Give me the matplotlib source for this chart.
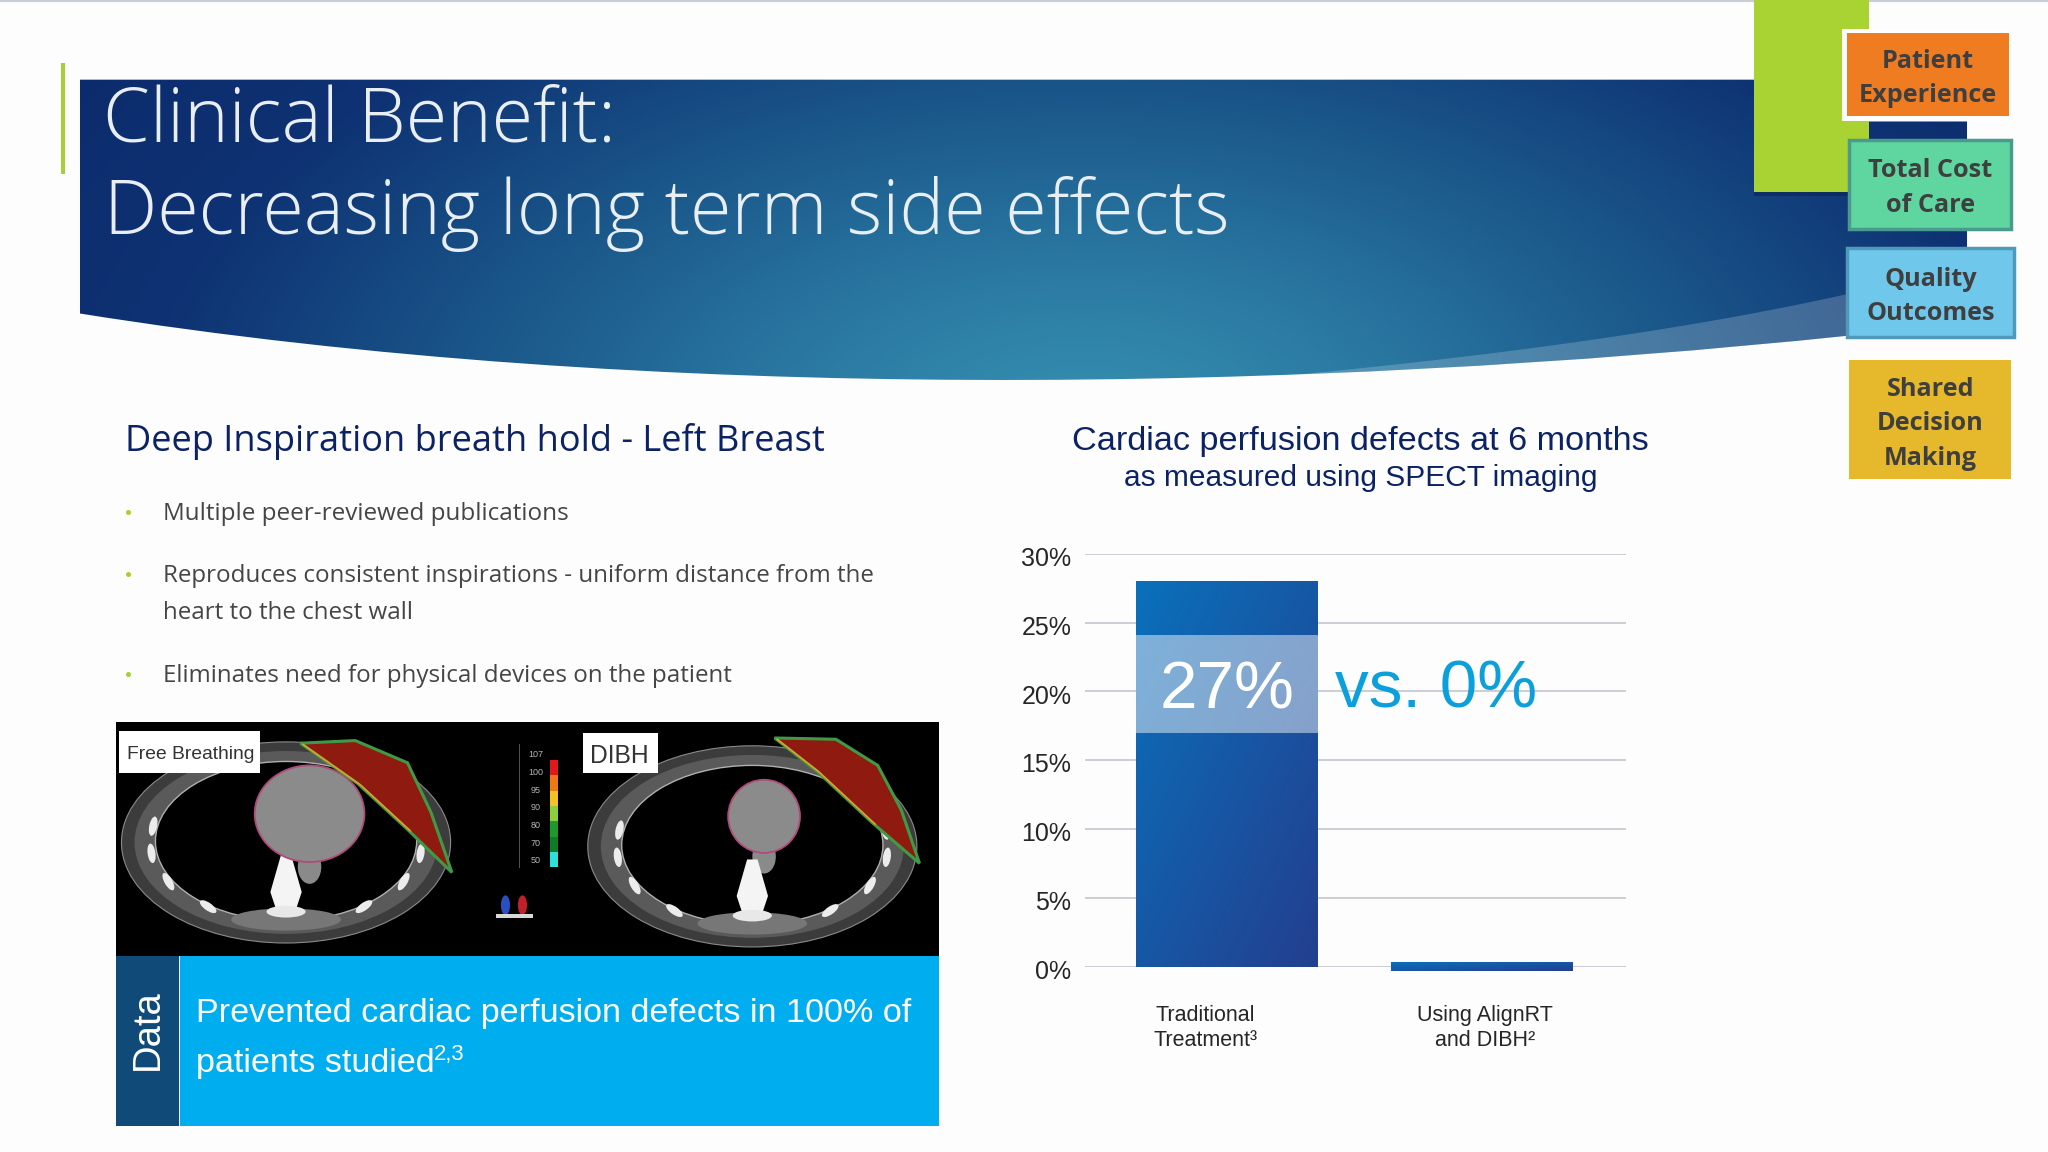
import matplotlib
matplotlib.use("Agg")
import matplotlib.pyplot as plt
import numpy as np
from matplotlib.colors import LinearSegmentedColormap
from matplotlib.patches import Ellipse, PathPatch, Polygon, Rectangle
from matplotlib.path import Path
from matplotlib.transforms import ScaledTranslation

# chart values
categories = ["Traditional\nTreatment³", "Using AlignRT\nand DIBH²"]
defect_tops = [28.0, 0.3]
defect_bottoms = [0.0, -0.3]
band_low = 17.0
band_high = 24.1
y_ticks = [0, 5, 10, 15, 20, 25, 30]
y_tick_labels = ["0%", "5%", "10%", "15%", "20%", "25%", "30%"]

bullets = ["Multiple peer-reviewed publications",
           "Reproduces consistent inspirations - uniform distance from the",
           "heart to the chest wall",
           "Eliminates need for physical devices on the patient"]
box_labels = ["Patient\nExperience", "Total Cost\nof Care", "Quality\nOutcomes", "Shared\nDecision\nMaking"]
scale_labels = ["107", "100", "95", "90", "80", "70", "50"]

SANS = "Liberation Sans"
BODY = "Open Sans"
NAVY = "#0b2265"

W, H = 1568, 882  # layout units, same shape as the slide

fig = plt.figure(figsize=(20.48, 11.52), dpi=100, facecolor="#fdfdfe")
bg = fig.add_axes([0, 0, 1, 1])
bg.set_xlim(0, W)
bg.set_ylim(H, 0)
bg.axis("off")


def fit_text(x, y, s, width, ha="left", **kw):
    # scale the font so the string spans the wanted width
    t = bg.text(x, y + 2, s, ha=ha, va="center", fontsize=20, **kw)
    r = fig.canvas.get_renderer()
    w = t.get_window_extent(r).width * W / fig.bbox.width
    t.set_fontsize(20 * width / w)
    return t


def rect(x0, y0, x1, y1, **kw):
    p = Rectangle((x0, y0), x1 - x0, y1 - y0, **kw)
    bg.add_patch(p)
    return p


def cubic(t, p0, p1, p2, p3):
    return (1 - t) ** 3 * p0 + 3 * (1 - t) ** 2 * t * p1 + 3 * (1 - t) * t ** 2 * p2 + t ** 3 * p3


# title band
bg.plot([0, W], [0.4, 0.4], color="#c9ced6", lw=1.5, zorder=1)
verts = [(61, 61), (1343, 61), (1343, 93), (1506, 93), (1506, 257), (1415, 257),
         (1000, 300), (500, 310), (61, 240), (61, 61)]
codes = [Path.MOVETO, Path.LINETO, Path.LINETO, Path.LINETO, Path.LINETO, Path.LINETO,
         Path.CURVE4, Path.CURVE4, Path.CURVE4, Path.CLOSEPOLY]
band_path = PathPatch(Path(verts, codes), fc="none", ec="none", transform=bg.transData)
bg.add_patch(band_path)
xx, yy = np.meshgrid(np.linspace(61, 1506, 500), np.linspace(60, 320, 200))
dist = np.sqrt(((xx - 830) / 800) ** 2 + ((yy - 330) / 430) ** 2)
band_cmap = LinearSegmentedColormap.from_list("band", ["#3792b2", "#2a78a2", "#1a5689", "#0e3273", "#0c2a6c"])
im = bg.imshow(dist, extent=(61, 1506, 320, 60), cmap=band_cmap, vmin=0, vmax=1.2,
               aspect="auto", zorder=2)
im.set_clip_path(band_path)
bg.set_xlim(0, W)
bg.set_ylim(H, 0)

# pale wedge under the curve on the right
t = np.linspace(0, 0.32, 60)
s = t / 0.32
low_x = cubic(t, 1415, 1000, 500, 61)
low_y = cubic(t, 257, 300, 310, 240)
up_x = (1 - s) ** 2 * 1415 + 2 * (1 - s) * s * 1250 + s ** 2 * low_x[-1]
up_y = (1 - s) ** 2 * 225 + 2 * (1 - s) * s * 262 + s ** 2 * low_y[-1]
bg.add_patch(Polygon(np.r_[np.c_[low_x, low_y], np.c_[up_x, up_y][::-1]], fc="white", alpha=0.2,
                     ec="none", zorder=3))

# left accent line and green block
rect(47, 48, 49.5, 133, fc="#a8cf38", ec="none", zorder=4)
rect(1343, 147, 1431, 150, fc="#0a1f50", alpha=0.5, ec="none", zorder=4)
rect(1343, 0, 1431, 147, fc="#a9d332", ec="none", zorder=5)

fit_text(79, 91, "Clinical Benefit:", 393, family=BODY, weight="light", color="#e9eef3", zorder=6)
fit_text(80, 162, "Decreasing long term side effects", 863, family=BODY, weight="light", color="#e9eef3", zorder=6)

# side boxes
rect(1410, 22, 1538, 93, fc="white", ec="none", zorder=6)
box_geom = [(1414, 25, 1538, 89, "#f07c22", "none"),
            (1416, 107, 1540, 175, "#5fd6a0", "#4a9a8e"),
            (1414, 190, 1542, 258, "#6fc8ec", "#4f9abb"),
            (1416, 276, 1540, 367, "#e5b92b", "none")]
for (x0, y0, x1, y1, fc, ec), label in zip(box_geom, box_labels):
    rect(x0, y0, x1, y1, fc=fc, ec=ec, lw=2.5, zorder=7)
    bg.text((x0 + x1) / 2, (y0 + y1) / 2 + 3, label, ha="center", va="center", family=BODY,
            weight="bold", fontsize=18.2, color="#3f3f3f", linespacing=1.5, zorder=8)

# left text column
fit_text(96, 336, "Deep Inspiration breath hold - Left Breast", 535, family=BODY, color=NAVY)
bullet_y = [391.5, 439, 467, 515.5]
bullet_w = [310, 542, 191, 435]
for line, y, w in zip(bullets, bullet_y, bullet_w):
    fit_text(125, y, line, w, family=BODY, color="#454545")
    if line != bullets[2]:
        bg.plot([98], [y + 0.5], "o", ms=2.6, color="#a8cf38")

# CT picture, drawn roughly
rect(89, 553, 719, 732, fc="black", ec="none", zorder=2)


def ct_slice(cx, cy, heart, dose):
    bg.add_patch(Ellipse((cx, cy), 252, 154, fc="#3c3c3c", ec="#8a8a8a", lw=0.8, zorder=3))
    bg.add_patch(Ellipse((cx, cy), 232, 140, fc="#5a5a5a", ec="none", zorder=3))
    # ribs around the chest wall
    for deg in [8, 30, 55, 125, 150, 172, 192, 348]:
        a = np.radians(deg)
        bg.add_patch(Ellipse((cx + 104 * np.cos(a), cy + 60 * np.sin(a)), 15, 6,
                             angle=deg + 90 if deg < 90 or deg > 270 else deg - 90,
                             fc="#ececec", ec="none", zorder=5))
    bg.add_patch(Ellipse((cx, cy - 1), 200, 122, fc="black", ec="#b0b0b0", lw=1, zorder=4))
    # spine and the soft tissue round it
    bg.add_patch(Ellipse((cx, cy + 59), 84, 17, fc="#777777", ec="none", zorder=5))
    bg.add_patch(Polygon([(cx - 4, cy + 10), (cx + 4, cy + 10), (cx + 12, cy + 38), (cx + 8, cy + 50),
                          (cx - 8, cy + 50), (cx - 12, cy + 38)], fc="#f4f4f4", ec="none", zorder=6))
    bg.add_patch(Ellipse((cx, cy + 53), 30, 9, fc="#e8e8e8", ec="none", zorder=6))
    bg.add_patch(Ellipse((heart[0], heart[1] + heart[3] * 0.55), 18, 26, fc="#8a8a8a", ec="none", zorder=5))
    # heart
    bg.add_patch(Ellipse(heart[:2], heart[2], heart[3], fc="#8b8b8b", ec="#b04a7a", lw=1.3, zorder=6))
    # breast dose
    bg.add_patch(Polygon(dose, fc="#8f1a10", ec="#3f9a45", lw=2.2, zorder=7))
    bg.plot(dose[[0, 6, 5], 0] + 2, dose[[0, 6, 5], 1] + 1, color="#e0a030", lw=1.2, zorder=8)


ct_slice(219, 645, (237, 623, 84, 74),
         np.array([(230, 569), (272, 567), (312, 584), (330, 622), (346, 668), (312, 635), (274, 600)]))
ct_slice(576, 648, (585, 625, 55, 56),
         np.array([(593, 565), (640, 566), (672, 586), (690, 620), (704, 661), (668, 630), (625, 590)]))

rect(91, 560, 199, 592, fc="white", ec="none", zorder=9)
fit_text(97, 576, "Free Breathing", 97, family=SANS, color="#333333", zorder=10)
rect(446, 561, 504, 592, fc="white", ec="none", zorder=9)
fit_text(452, 576.5, "DIBH", 45, family=SANS, color="#333333", zorder=10)

scale_colors = ["#e01a1a", "#ee7b12", "#f2c322", "#8fcf3a", "#1e9a2c", "#0f7c2a", "#2fe0d8"]
for i, (lab, c) in enumerate(zip(scale_labels, scale_colors)):
    rect(421, 582 + i * 11.7, 427, 582 + (i + 1) * 11.7, fc=c, ec="none", zorder=3)
    bg.text(410, 578 + i * 13.5, lab, ha="center", va="center", fontsize=6.5, family=SANS,
            color="#b5b5b5", zorder=3)
bg.plot([397, 397], [570, 664], color="#555555", lw=0.7, zorder=3)
bg.add_patch(Ellipse((387, 693), 7, 15, fc="#2a50c0", ec="none", zorder=3))
bg.add_patch(Ellipse((400, 693), 7, 15, fc="#c0202a", ec="none", zorder=3))
rect(380, 700, 408, 703, fc="#d8d8d8", ec="none", zorder=4)

# data banner
rect(89, 732, 137, 862, fc="#104a78", ec="none", zorder=3)
rect(138, 732, 719, 862, fc="#00aeef", ec="none", zorder=3)
bg.text(113.5, 788.5, "Data", rotation=90, ha="center", va="center", family=SANS, fontsize=27.5,
        color="white", zorder=4)
banner = fit_text(150, 774, "Prevented cardiac perfusion defects in 100% of", 547, family=SANS,
                  color="white", zorder=4)
bg.text(150, 814, "patients studied", ha="left", va="center", family=SANS,
        fontsize=banner.get_fontsize(), color="white", zorder=4)
bg.text(332, 807, "2,3", ha="left", va="center", family=SANS,
        fontsize=banner.get_fontsize() * 0.65, color="white", zorder=4)

# chart heading
fit_text(1041.5, 336, "Cardiac perfusion defects at 6 months", 440, ha="center", family=SANS, color=NAVY)
fit_text(1041.5, 364, "as measured using SPECT imaging", 361, ha="center", family=SANS, color=NAVY)

# bar chart
ax = fig.add_axes([831 / W, 1 - 740 / H, 414 / W, 316 / H])
ax.patch.set_alpha(0)
for spine in ax.spines.values():
    spine.set_visible(False)
x_pos = np.arange(len(categories))
bar_w = 0.713
ax.set_axisbelow(True)
ax.yaxis.grid(True, color="#c9c9d2", lw=1.3)
heights = np.array(defect_tops) - np.array(defect_bottoms)
ax.bar(x_pos, heights, bottom=defect_bottoms, width=bar_w, color="#1a5aa8", clip_on=False, zorder=2)
bar_cmap = LinearSegmentedColormap.from_list("bar", ["#0a70bb", "#233f8f"])
u, v = np.meshgrid(np.linspace(0, 1, 60), np.linspace(0, 1, 60))
for x0, b, top in zip(x_pos, defect_bottoms, defect_tops):
    bar_im = ax.imshow((u + v) / 2, extent=(x0 - bar_w / 2, x0 + bar_w / 2, b, top), cmap=bar_cmap,
                       aspect="auto", origin="upper", zorder=3)
    bar_im.set_clip_on(False)
ax.bar(x_pos[0], band_high - band_low, bottom=band_low, width=bar_w, color="white", alpha=0.47, zorder=4)
ax.set_xlim(-0.556, 1.567)
ax.set_ylim(0, 30)
ax.set_xticks([])
ax.set_yticks(y_ticks)
ax.set_yticklabels(y_tick_labels, family=SANS, fontsize=18, color="#262626")
ax.tick_params(axis="y", length=0, pad=10)
nudge = ScaledTranslation(0, -2 / 72, fig.dpi_scale_trans)
for lab in ax.get_yticklabels():
    lab.set_transform(lab.get_transform() + nudge)
ax.set_zorder(1)

# the two big labels sit on top of the bar, so they go in the chart's layer
ax.text(0, 20.0, "27%", ha="center", va="center", family=SANS, fontsize=48.5, color="white", zorder=6)
ax.text(1022, 528.5, "vs. 0%", transform=bg.transData, ha="left", va="center", family=SANS, fontsize=48.5,
        color="#0b9fdb", zorder=6)

bg.text(923, 787, categories[0], ha="center", va="center", family=SANS, fontsize=15.5,
        color="#262626", linespacing=1.3)
bg.text(1137, 787, categories[1], ha="center", va="center", family=SANS, fontsize=15.5,
        color="#262626", linespacing=1.3)

fig.savefig("out.png", dpi=100, facecolor=fig.get_facecolor())
